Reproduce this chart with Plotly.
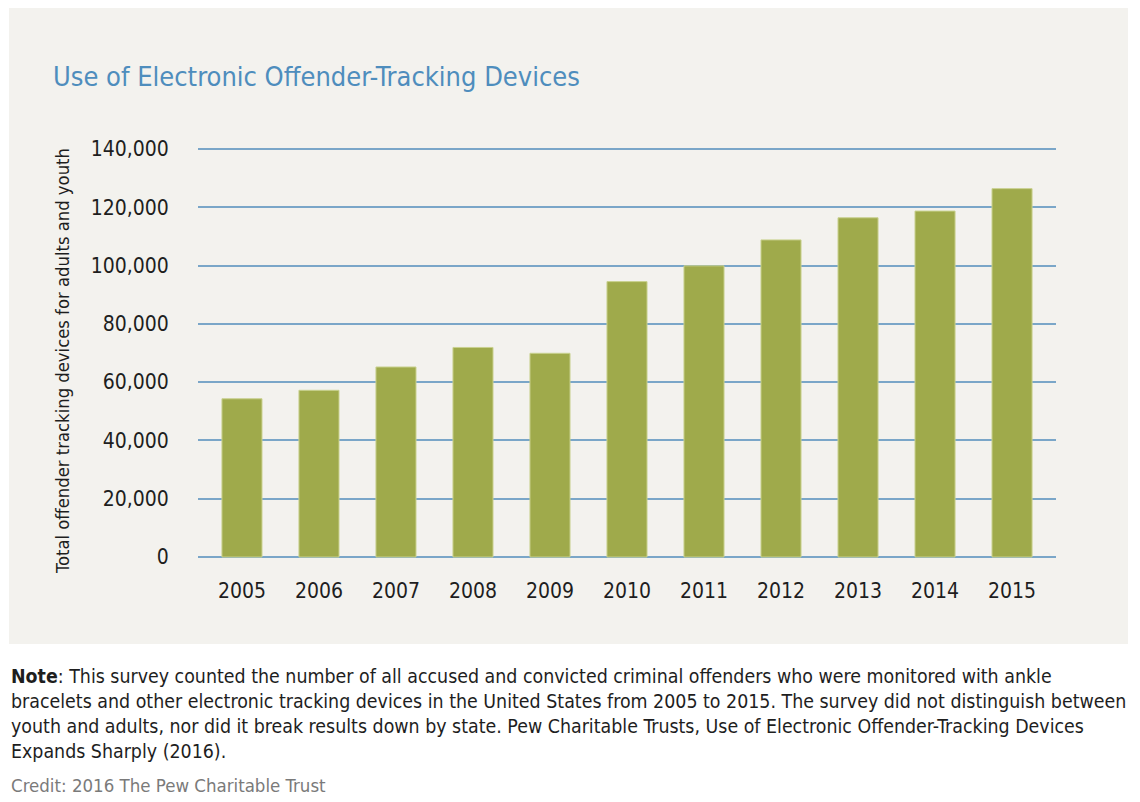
import plotly.graph_objects as go

years = ["2005", "2006", "2007", "2008", "2009", "2010", "2011", "2012", "2013", "2014", "2015"]
devices = [54300, 57200, 65200, 71900, 69900, 94500, 99900, 108800, 116400, 118700, 126400]
y_ticks = [0, 20000, 40000, 60000, 80000, 100000, 120000, 140000]
y_tick_labels = ["0", "20,000", "40,000", "60,000", "80,000", "100,000", "120,000", "140,000"]

title_text = "Use of Electronic Offender-Tracking Devices"
y_title = "Total offender tracking devices for adults and youth"
note_lines = [
    "<b>Note</b>: This survey counted the number of all accused and convicted criminal offenders who were monitored with ankle",
    "bracelets and other electronic tracking devices in the United States from 2005 to 2015. The survey did not distinguish between",
    "youth and adults, nor did it break results down by state. Pew Charitable Trusts, Use of Electronic Offender-Tracking Devices",
    "Expands Sharply (2016).",
]
credit = "Credit: 2016 The Pew Charitable Trust"

W, H = 1140, 802
ML, MR, MT, MB = 198, 84, 145, 241
FONT = "DejaVu Sans Condensed, Roboto, sans-serif"

fig = go.Figure()
fig.add_trace(go.Bar(
    x=list(range(len(years))), y=devices,
    width=0.52,
    marker=dict(color="#9faa4b", line=dict(color="#c9d18f", width=1)),
    hoverinfo="x+y",
))

fig.update_layout(
    width=W, height=H,
    paper_bgcolor="white",
    plot_bgcolor="rgba(0,0,0,0)",
    margin=dict(l=ML, r=MR, t=MT, b=MB, pad=0),
    showlegend=False,
    font=dict(family=FONT, color="#1e1e1e"),
    xaxis=dict(
        range=[-0.571, 10.571],
        tickvals=list(range(len(years))), ticktext=years,
        showgrid=False, zeroline=False, showline=False,
        ticks="outside", ticklen=11, tickcolor="rgba(0,0,0,0)",
        tickfont=dict(size=21, family=FONT, color="#1e1e1e"),
        fixedrange=True,
    ),
    yaxis=dict(
        range=[-1372, 141372],
        tickvals=y_ticks, ticktext=y_tick_labels,
        showgrid=True, gridcolor="#7aa6c8", gridwidth=1.5,
        zeroline=False, showline=False,
        ticks="outside", ticklen=24, tickcolor="rgba(0,0,0,0)",
        tickfont=dict(size=21, family=FONT, color="#1e1e1e"),
        fixedrange=True,
    ),
)

pw = W - ML - MR
ph = H - MT - MB
def px_x(x):
    return (x - ML) / pw
def px_y(y):
    return (H - MB - y) / ph

fig.add_shape(type="rect", xref="paper", yref="paper",
              x0=px_x(9), x1=px_x(1128), y0=px_y(644), y1=px_y(8),
              fillcolor="#f3f2ee", line=dict(width=0), layer="below")

fig.add_annotation(xref="paper", yref="paper", x=px_x(51), y=px_y(76),
                   text=title_text, showarrow=False, xanchor="left", yanchor="middle",
                   font=dict(size=27, family=FONT, color="#4e8dbd"))

fig.add_annotation(xref="paper", yref="paper", x=px_x(62), y=px_y(361),
                   text=y_title, showarrow=False, textangle=-90,
                   xanchor="center", yanchor="middle",
                   font=dict(size=18.3, family=FONT, color="#1e1e1e"))

line_y = [676, 701, 726, 751]
for t, yy in zip(note_lines, line_y):
    fig.add_annotation(xref="paper", yref="paper", x=px_x(9), y=px_y(yy),
                       text=t, showarrow=False, xanchor="left", yanchor="middle",
                       font=dict(size=19.4, family=FONT, color="#1e1e1e"))

fig.add_annotation(xref="paper", yref="paper", x=px_x(9), y=px_y(785),
                   text=credit, showarrow=False, xanchor="left", yanchor="middle",
                   font=dict(size=18.5, family=FONT, color="#7a7a7a"))

fig.write_html("out.html", config={"displayModeBar": False})
